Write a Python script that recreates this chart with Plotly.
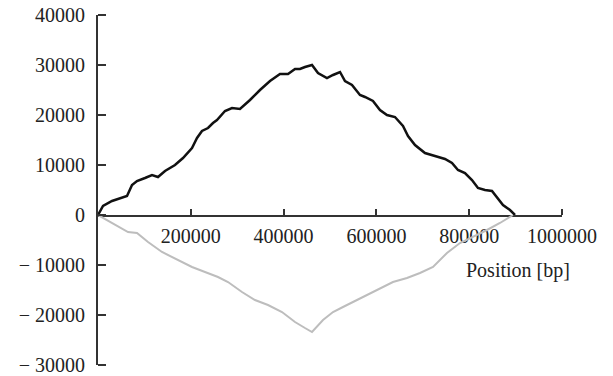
import plotly.graph_objects as go

# Black curve (upper)
pos_upper = [0, 10800, 30200, 47400, 62500, 73300, 84000, 101300, 116400, 129300, 144400,
             165900, 183200, 202600, 213400, 224100, 237100, 247800, 256400, 273700, 288800,
             306000, 327600, 349100, 370700, 392200, 409500, 424600, 435300, 446100, 461200,
             474100, 493500, 506500, 521600, 532300, 547400, 564600, 575400, 592600, 607700,
             622800, 640000, 657300, 668100, 683200, 704700, 726200, 747800, 762900, 775800,
             790900, 806000, 818900, 834000, 849100, 862000, 872800, 887900, 898700]
val_upper = [0, 1800, 2800, 3400, 3800, 6000, 6800, 7400, 8000, 7600, 8800,
             10000, 11400, 13400, 15400, 16800, 17400, 18400, 19000, 20800, 21400,
             21200, 23000, 25000, 26800, 28200, 28200, 29200, 29200, 29600, 30000,
             28400, 27400, 28000, 28600, 26800, 26000, 24000, 23600, 22800, 21000,
             20000, 19600, 17800, 15800, 14000, 12400, 11800, 11200, 10400, 9000,
             8400, 7000, 5400, 5000, 4800, 3400, 2000, 1000, 0]

# Gray curve (lower)
pos_lower = [0, 30200, 64700, 84000, 107800, 137900, 172400, 202600, 230600, 258600, 280200,
             310300, 338300, 366400, 396500, 424600, 446100, 461200, 484900, 506500, 528000,
             549600, 579700, 607700, 635700, 665900, 693900, 722000, 752100, 780100, 808100,
             838300, 866300, 894300]
val_lower = [0, -1600, -3400, -3600, -5400, -7400, -9000, -10400, -11400, -12400, -13400,
             -15400, -17000, -18000, -19400, -21400, -22600, -23400, -21000, -19400, -18400,
             -17400, -16000, -14600, -13400, -12600, -11600, -10400, -7600, -5600, -4400,
             -3000, -1600, 0]

x_ticks = [200000, 400000, 600000, 800000, 1000000]
x_tick_labels = ["200000", "400000", "600000", "800000", "1000000"]
y_ticks_pos = [0, 10000, 20000, 30000, 40000]
y_tick_labels_pos = ["0", "10000", "20000", "30000", "40000"]
y_ticks_neg = [-30000, -20000, -10000]
y_tick_labels_neg = ["− 30000", "− 20000", "− 10000"]
x_title = "Position [bp]"

FONT = "Liberation Serif"
AXC = "#333333"
TXT = "#222222"
X_MAX = 1000000
Y_MIN, Y_MAX = -30000, 40000

# ---- layout geometry (pixels) ----
W, H = 613, 376
ML, MR, MT, MB = 98, 41, 6, 0
PW, PH = W - ML - MR, H - MT - MB          # plotting area
X0_PX, X1_PX = 98, 562                      # x = 0 .. 1e6
YTOP_PX, YZERO_PX, YBOT_PX = 15, 215, 365   # 40000, 0, -30000
YTICK_LEN, XTICK_LEN = 8, 6
PAD = 4                                     # grid-tick subplot padding (px)


def fy(px):
    return (H - MB - px) / PH


def fx(px):
    return (px - ML) / PW


ppx = X_MAX / (X1_PX - X0_PX)               # data units per px (x)
ppy = (Y_MAX - Y_MIN) / (YBOT_PX - YTOP_PX)  # data units per px (y)

fig = go.Figure()
fig.add_trace(go.Scatter(x=pos_lower, y=val_lower, mode="lines", xaxis="x", yaxis="y2",
                         line=dict(color="#bdbdbd", width=2), showlegend=False, hoverinfo="skip"))
fig.add_trace(go.Scatter(x=pos_upper, y=val_upper, mode="lines", xaxis="x", yaxis="y",
                         line=dict(color="#111111", width=2.5), showlegend=False, hoverinfo="skip"))
# empty traces so the tick-mark subplots exist
fig.add_trace(go.Scatter(x=[], y=[], xaxis="x3", yaxis="y3", showlegend=False))
fig.add_trace(go.Scatter(x=[], y=[], xaxis="x4", yaxis="y4", showlegend=False))

label_y = dict(
    showline=True, linecolor=AXC, linewidth=2,
    showgrid=False, zeroline=False, ticks="",
    automargin=False, ticklabeloverflow="allow", ticklabelstandoff=7,
    tickfont=dict(family=FONT, size=20, color=TXT),
)
hidden = dict(visible=False, showgrid=False, zeroline=False, automargin=False)

fig.update_layout(
    width=W, height=H,
    margin=dict(l=ML, r=MR, t=MT, b=MB),
    paper_bgcolor="white", plot_bgcolor="rgba(0,0,0,0)",
    font=dict(family=FONT, size=20, color=TXT),
    xaxis=dict(
        range=[0, X_MAX], domain=[fx(X0_PX), fx(X1_PX)], anchor="y",
        showline=True, linecolor=AXC, linewidth=2,
        showgrid=False, zeroline=False, ticks="",
        tickvals=x_ticks, ticktext=x_tick_labels,
        automargin=False, ticklabelstandoff=2,
        tickfont=dict(family=FONT, size=20, color=TXT),
    ),
    yaxis=dict(
        range=[0, Y_MAX], domain=[fy(YZERO_PX), fy(YTOP_PX)], anchor="x",
        tickvals=y_ticks_pos, ticktext=y_tick_labels_pos, **label_y,
    ),
    yaxis2=dict(
        range=[Y_MIN, 0], domain=[fy(YBOT_PX), fy(YZERO_PX)], anchor="x",
        tickvals=y_ticks_neg, ticktext=y_tick_labels_neg, **label_y,
    ),
    # y tick marks (short grid lines pointing into the plot)
    xaxis3=dict(range=[0, 1], domain=[fx(X0_PX), fx(X0_PX + YTICK_LEN)], anchor="y3", **hidden),
    yaxis3=dict(
        range=[Y_MIN - PAD * ppy, Y_MAX + PAD * ppy],
        domain=[fy(YBOT_PX + PAD), fy(YTOP_PX - PAD)], anchor="x3",
        showgrid=True, gridcolor=AXC, gridwidth=2, tickvals=y_ticks_neg + y_ticks_pos,
        showticklabels=False, showline=False, zeroline=False, ticks="", automargin=False,
    ),
    # x tick marks (short grid lines pointing up from the zero line)
    xaxis4=dict(
        range=[0, (PW - fx(X0_PX) * PW) * ppx], domain=[fx(X0_PX), 1], anchor="y4",
        showgrid=True, gridcolor=AXC, gridwidth=2, tickvals=x_ticks,
        showticklabels=False, showline=False, zeroline=False, ticks="", automargin=False,
    ),
    yaxis4=dict(range=[0, 1], domain=[fy(YZERO_PX), fy(YZERO_PX - XTICK_LEN)], anchor="x4", **hidden),
    annotations=[dict(
        text=x_title, xref="x", yref="y2", x=905000, y=-11000,
        xanchor="center", yanchor="middle", showarrow=False,
        font=dict(family=FONT, size=20, color=TXT),
    )],
)

fig.write_html("out.html")
